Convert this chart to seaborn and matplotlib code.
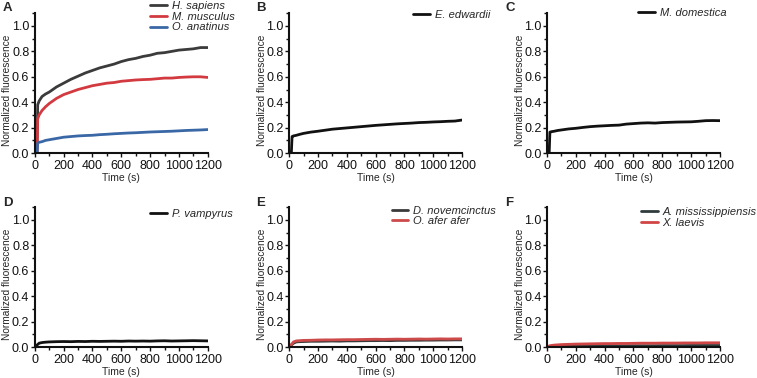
import seaborn as sns
import pandas as pd
import matplotlib.pyplot as plt
from matplotlib.ticker import MultipleLocator

# time points (s)
t = [0, 15, 20, 30, 50, 75, 100, 150, 200, 250, 300, 350, 400, 450, 500, 550,
     600, 650, 700, 750, 800, 850, 900, 950, 1000, 1050, 1100, 1150, 1200]

# normalized fluorescence
h_sapiens = [0, 0, 0.38, 0.41, 0.445, 0.465, 0.48, 0.52, 0.55, 0.58, 0.605, 0.63, 0.65, 0.67, 0.685,
             0.70, 0.72, 0.735, 0.745, 0.76, 0.77, 0.785, 0.79, 0.80, 0.81, 0.815, 0.82, 0.83, 0.83]
m_musculus = [0, 0, 0.27, 0.30, 0.335, 0.365, 0.39, 0.43, 0.46, 0.48, 0.50, 0.515, 0.53, 0.54, 0.55,
              0.555, 0.565, 0.57, 0.575, 0.578, 0.58, 0.585, 0.59, 0.59, 0.595, 0.598, 0.60, 0.60, 0.595]
o_anatinus = [0, 0, 0.08, 0.085, 0.09, 0.10, 0.105, 0.115, 0.125, 0.13, 0.135, 0.138, 0.14, 0.145, 0.148,
              0.152, 0.155, 0.158, 0.16, 0.163, 0.166, 0.168, 0.17, 0.172, 0.175, 0.178, 0.18, 0.182, 0.185]
e_edwardii = [0, 0, 0.13, 0.135, 0.14, 0.148, 0.155, 0.165, 0.172, 0.18, 0.188, 0.193, 0.198, 0.203, 0.208,
              0.213, 0.218, 0.222, 0.226, 0.23, 0.233, 0.236, 0.24, 0.242, 0.245, 0.247, 0.25, 0.252, 0.26]
m_domestica = [0, 0, 0.165, 0.168, 0.172, 0.178, 0.182, 0.19, 0.195, 0.202, 0.208, 0.212, 0.215, 0.218, 0.22,
               0.228, 0.232, 0.236, 0.238, 0.236, 0.24, 0.242, 0.244, 0.245, 0.246, 0.25, 0.255, 0.256, 0.255]
p_vampyrus = [0, 0.015, 0.02, 0.03, 0.035, 0.038, 0.04, 0.042, 0.043, 0.042, 0.044, 0.043, 0.045, 0.044, 0.045,
              0.046, 0.045, 0.047, 0.046, 0.047, 0.046, 0.048, 0.049, 0.047, 0.048, 0.049, 0.05, 0.049, 0.048]
d_novemcinctus = [0, 0.015, 0.02, 0.03, 0.04, 0.042, 0.043, 0.045, 0.045, 0.046, 0.047, 0.046, 0.048, 0.048, 0.049,
                  0.05, 0.05, 0.051, 0.05, 0.052, 0.052, 0.053, 0.053, 0.054, 0.054, 0.055, 0.055, 0.056, 0.056]
o_afer_afer = [0, 0.02, 0.025, 0.04, 0.048, 0.05, 0.052, 0.053, 0.055, 0.056, 0.056, 0.057, 0.058, 0.058, 0.059,
               0.06, 0.061, 0.06, 0.061, 0.062, 0.061, 0.062, 0.063, 0.062, 0.063, 0.064, 0.063, 0.064, 0.064]
a_mississippiensis = [0, 0.002, 0.003, 0.004, 0.005, 0.005, 0.006, 0.006, 0.007, 0.007, 0.008, 0.008, 0.008, 0.009,
                      0.009, 0.009, 0.01, 0.01, 0.01, 0.01, 0.011, 0.011, 0.011, 0.011, 0.012, 0.012, 0.012, 0.012, 0.012]
x_laevis = [0, 0.008, 0.01, 0.012, 0.015, 0.017, 0.019, 0.021, 0.023, 0.024, 0.025, 0.026, 0.027, 0.027, 0.028,
            0.028, 0.029, 0.03, 0.03, 0.03, 0.031, 0.031, 0.031, 0.032, 0.032, 0.032, 0.033, 0.033, 0.033]

# panel: letter, [(name, values, colour)], legend anchor (axes coords)
panels = [
    ("A", [("H. sapiens", h_sapiens, "#3b3b3b"), ("M. musculus", m_musculus, "#d23a40"),
           ("O. anatinus", o_anatinus, "#3a68a6")], (0.665, 1.085)),
    ("B", [("E. edwardii", e_edwardii, "#111111")], (0.717, 1.025)),
    ("C", [("M. domestica", m_domestica, "#111111")], (0.526, 1.04)),
    ("D", [("P. vampyrus", p_vampyrus, "#111111")], (0.665, 0.99)),
    ("E", [("D. novemcinctus", d_novemcinctus, "#3a3a3a"), ("O. afer afer", o_afer_afer, "#cc4a4a")], (0.593, 1.01)),
    ("F", [("A. mississippiensis", a_mississippiensis, "#2f3b3b"), ("X. laevis", x_laevis, "#d04545")], (0.543, 1.0)),
]

sns.set_style("ticks")
plt.rcParams['font.family'] = ['Liberation Sans', 'DejaVu Sans']

fig = plt.figure(figsize=(7.57, 3.78), dpi=100)
lefts = [0.046, 0.382, 0.7226]
bottoms = [0.595, 0.082]
letter_x = [3, 256, 505]
letter_y = [8, 203]

for i, (letter, series, anchor) in enumerate(panels):
    r, c = divmod(i, 3)
    ax = fig.add_axes([lefts[c], bottoms[r], 0.2285, 0.37])
    rows = []
    for name, vals, col in series:
        for tt, v in zip(t, vals):
            rows.append({"t": tt, "v": v, "species": name})
    df = pd.DataFrame(rows)
    pal = {name: col for name, vals, col in series}
    sns.lineplot(data=df, x="t", y="v", hue="species", hue_order=list(pal), palette=pal,
                 ax=ax, lw=2.0, errorbar=None, sort=False)
    ax.set_xlim(0, 1200)
    ax.set_ylim(0, 1.1)
    ax.set_xticks(range(0, 1201, 200))
    ax.set_yticks([0, 0.2, 0.4, 0.6, 0.8, 1.0])
    ax.xaxis.set_minor_locator(MultipleLocator(100))
    ax.yaxis.set_minor_locator(MultipleLocator(0.1))
    ax.tick_params(axis="both", which="major", labelsize=9, length=3, width=1, colors="#111")
    ax.tick_params(axis="y", which="major", pad=1)
    ax.tick_params(axis="x", which="major", pad=2)
    ax.tick_params(axis="both", which="minor", length=2, width=1, colors="#111")
    sns.despine(ax=ax)
    for s in ["left", "bottom"]:
        ax.spines[s].set_linewidth(1.5)
        ax.spines[s].set_color("#111")
    ax.set_xlabel("Time (s)", fontsize=7.5)
    ax.set_ylabel("Normalized fluorescence", fontsize=7.3)
    ax.xaxis.set_label_coords(0.5, -0.145)
    ax.yaxis.set_label_coords(-0.13, 0.45)

    handles, labels = ax.get_legend_handles_labels()
    ax.legend(handles, labels, frameon=False, loc="upper left", bbox_to_anchor=anchor,
              borderaxespad=0, borderpad=0, handlelength=1.5, handletextpad=0.45,
              labelspacing=0.05, prop={"style": "italic", "size": 8})

    fig.text(letter_x[c] / 757, 1 - letter_y[r] / 378, letter, fontsize=9.5, fontweight="bold",
             ha="left", va="center")

fig.savefig("out.png", dpi=100)
